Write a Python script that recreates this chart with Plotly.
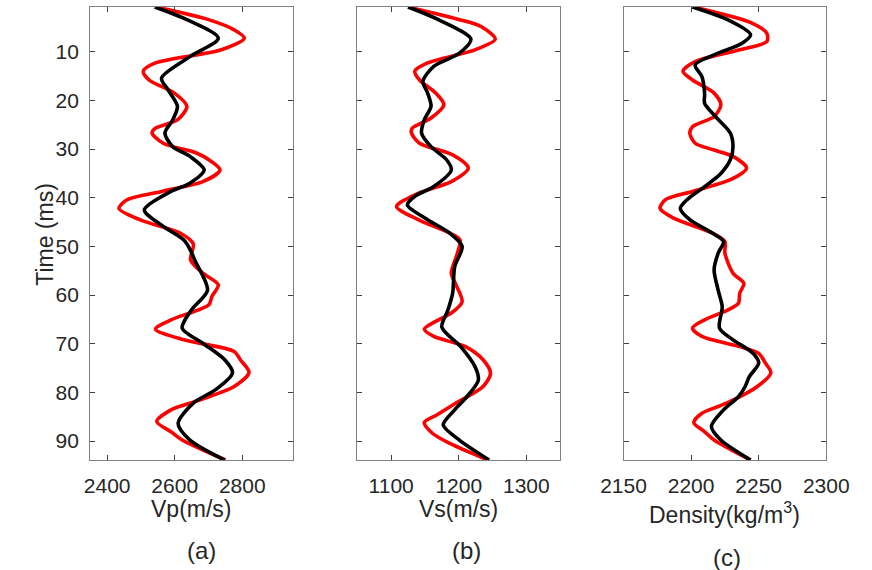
import plotly.graph_objects as go

# ---------------- data ----------------
# Panel (a) Vp
vp_true_t = [0.8, 3.4, 5.5, 7.2, 9.6, 12.3, 14.0, 15.8, 18.5, 21.2, 24.0, 25.7, 26.7, 28.8, 30.8, 32.2,
             34.3, 36.7, 38.7, 40.4, 42.2, 44.5, 47.3, 49.5, 52.8, 55.5, 57.9, 60.3, 62.0, 65.1, 67.0,
             69.2, 71.6, 73.3, 75.9, 78.8, 81.6, 83.6, 86.0, 88.1, 89.8, 93.9]
vp_true = [2545, 2700, 2776, 2806, 2738, 2543, 2507, 2524, 2599, 2636, 2608, 2543, 2533, 2566, 2664, 2701,
           2734, 2683, 2561, 2459, 2435, 2496, 2617, 2655, 2647, 2683, 2729, 2710, 2701, 2589, 2543,
           2627, 2776, 2794, 2820, 2776, 2673, 2589, 2547, 2589, 2622, 2750]
vp_inv_t = [0.8, 3.4, 7.2, 11.0, 15.4, 17.8, 21.2, 24.0, 26.7, 29.5, 31.5, 34.3, 37.0, 38.7, 42.5, 45.9,
            48.7, 50.7, 52.8, 59.0, 63.0, 66.8, 69.9, 73.3, 76.0, 79.5, 82.2, 86.4, 89.8, 93.9]
vp_inv = [2541, 2636, 2729, 2645, 2561, 2580, 2608, 2594, 2571, 2594, 2645, 2687, 2645, 2589, 2510, 2566,
          2627, 2646, 2659, 2697, 2650, 2622, 2683, 2748, 2771, 2720, 2655, 2610, 2645, 2748]

# Panel (b) Vs
vs_true_t = [0.8, 3.4, 4.8, 7.4, 9.6, 12.3, 14.0, 15.8, 18.5, 20.9, 23.6, 25.7, 26.7, 28.8, 31.2, 33.9,
             36.7, 39.1, 41.8, 44.5, 47.3, 48.7, 51.4, 55.5, 57.6, 61.4, 63.7, 65.1, 67.0, 68.5, 70.6,
             73.3, 76.1, 78.8, 82.2, 84.6, 86.2, 88.4, 90.5, 93.9]
vs_true = [1125, 1201, 1233, 1254, 1224, 1154, 1135, 1142, 1166, 1178, 1159, 1131, 1130, 1142, 1191, 1214,
           1189, 1140, 1108, 1140, 1187, 1202, 1198, 1189, 1195, 1205, 1189, 1170, 1149, 1163, 1210,
           1236, 1247, 1236, 1196, 1168, 1149, 1161, 1187, 1243]
vs_inv_t = [0.8, 3.4, 7.4, 10.3, 13.0, 16.1, 18.5, 21.2, 24.0, 26.7, 29.5, 32.2, 34.3, 37.7, 39.7, 41.5,
            44.5, 47.3, 50.0, 54.2, 59.6, 63.1, 66.6, 70.6, 74.7, 77.5, 80.9, 83.6, 86.7, 89.8, 93.9]
vs_inv = [1125, 1170, 1218, 1201, 1163, 1147, 1154, 1159, 1149, 1145, 1159, 1182, 1189, 1163, 1135, 1124,
          1154, 1187, 1205, 1194, 1191, 1184, 1175, 1203, 1224, 1229, 1212, 1194, 1177, 1201, 1245]

# Panel (c) Density
rho_true_t = [0.8, 4.1, 6.2, 7.9, 9.6, 12.0, 14.0, 15.8, 18.5, 20.9, 23.3, 25.4, 26.7, 28.8, 30.2, 31.5,
              33.9, 36.3, 38.7, 40.4, 42.2, 44.2, 47.3, 49.0, 51.4, 55.5, 57.6, 59.6, 61.7, 63.1, 65.1,
              66.8, 68.5, 70.6, 72.0, 74.0, 76.0, 78.8, 81.6, 82.9, 84.3, 86.2, 88.1, 89.8, 93.9]
rho_true = [2202, 2245, 2256, 2256, 2236, 2203, 2194, 2201, 2217, 2222, 2217, 2201, 2199, 2203, 2217, 2231,
            2241, 2229, 2201, 2181, 2177, 2187, 2216, 2225, 2225, 2231, 2239, 2236, 2235, 2227, 2210,
            2201, 2208, 2236, 2250, 2255, 2259, 2249, 2231, 2220, 2208, 2202, 2210, 2217, 2244]
rho_inv_t = [0.8, 3.4, 6.5, 8.2, 10.3, 12.7, 15.1, 18.5, 20.6, 23.3, 26.7, 29.5, 32.2, 35.0, 37.7, 40.4,
             42.2, 44.5, 47.3, 49.0, 51.4, 54.8, 59.0, 62.4, 66.8, 69.2, 72.0, 74.0, 76.8, 78.8, 80.9,
             83.6, 87.0, 89.8, 93.9]
rho_inv = [2201, 2227, 2244, 2238, 2220, 2203, 2208, 2210, 2210, 2218, 2229, 2231, 2229, 2222, 2210, 2197,
           2192, 2199, 2216, 2224, 2220, 2217, 2220, 2223, 2221, 2231, 2246, 2250, 2243, 2240, 2235,
           2224, 2215, 2222, 2244]

x_ranges = [[2350, 2950], [1050, 1350], [2150, 2300]]
x_ticks = [[2400, 2600, 2800], [1100, 1200, 1300], [2150, 2200, 2250, 2300]]
y_ticks = [10, 20, 30, 40, 50, 60, 70, 80, 90]
t_range = [93.9, 0.8]
x_titles = ["Vp(m/s)", "Vs(m/s)", "Density(kg/m<sup>3</sup>)"]
panel_tags = ["(a)", "(b)", "(c)"]
y_title = "Time (ms)"

# ---------------- figure ----------------
W, H = 872, 570
FONT = "Liberation Sans, Arial, sans-serif"
TXT = "#262626"
fig = go.Figure()

series = [(vp_true_t, vp_true, vp_inv_t, vp_inv),
          (vs_true_t, vs_true, vs_inv_t, vs_inv),
          (rho_true_t, rho_true, rho_inv_t, rho_inv)]

for i, (tt, tv, it, iv) in enumerate(series):
    ax = "" if i == 0 else str(i + 1)
    fig.add_trace(go.Scatter(x=tv, y=tt, mode="lines", xaxis="x" + ax, yaxis="y" + ax,
                             line=dict(color="#ff0000", width=3.6, shape="spline", smoothing=0.8),
                             showlegend=False, hoverinfo="skip"))
    fig.add_trace(go.Scatter(x=iv, y=it, mode="lines", xaxis="x" + ax, yaxis="y" + ax,
                             line=dict(color="#000000", width=3.6, shape="spline", smoothing=0.8),
                             showlegend=False, hoverinfo="skip"))

left_px = [71, 353, 634]
right_px = [285, 567, 848]
top_px, bot_px = 7, 460
ydom = [1 - bot_px / H, 1 - top_px / H]

axis_common = dict(showline=True, linecolor="#808080", linewidth=1.2, mirror="ticks",
                   ticks="inside", ticklen=5, tickwidth=1, tickcolor="#404040",
                   showgrid=False, zeroline=False,
                   tickfont=dict(family=FONT, size=21, color=TXT))

layout = dict(width=W, height=H, margin=dict(l=0, r=0, t=0, b=0), autosize=False,
              paper_bgcolor="white", plot_bgcolor="white", showlegend=False)

for i in range(3):
    ax = "" if i == 0 else str(i + 1)
    layout["xaxis" + ax] = dict(axis_common, domain=[left_px[i] / W, right_px[i] / W],
                                range=x_ranges[i], tickvals=x_ticks[i],
                                anchor="y" + ax, ticklabelstandoff=7)
    layout["yaxis" + ax] = dict(axis_common, domain=ydom, range=t_range, tickvals=y_ticks,
                                anchor="x" + ax, showticklabels=(i == 0), ticklabelstandoff=6)

fig.update_layout(**layout)

ann = []
label_x = [178, 460, 741]
tag_x = [188, 468, 743]
tag_y = [550, 550, 557]
title_y = [509, 509, 513]
for i in range(3):
    ann.append(dict(text=x_titles[i], x=label_x[i] / W, y=1 - title_y[i] / H, xref="paper", yref="paper",
                    showarrow=False, xanchor="center", yanchor="middle",
                    font=dict(family=FONT, size=23, color=TXT)))
    ann.append(dict(text=panel_tags[i], x=tag_x[i] / W, y=1 - tag_y[i] / H, xref="paper", yref="paper",
                    showarrow=False, xanchor="center", yanchor="middle",
                    font=dict(family=FONT, size=24, color=TXT)))
ann.append(dict(text=y_title, x=23 / W, y=1 - 234 / H, xref="paper", yref="paper", textangle=-90,
                showarrow=False, xanchor="center", yanchor="middle",
                font=dict(family=FONT, size=23, color=TXT)))
fig.update_layout(annotations=ann)

fig.write_html("out.html",
               post_script="document.body.style.margin='0';document.body.style.padding='0';"
                           "document.body.style.overflow='hidden';")
